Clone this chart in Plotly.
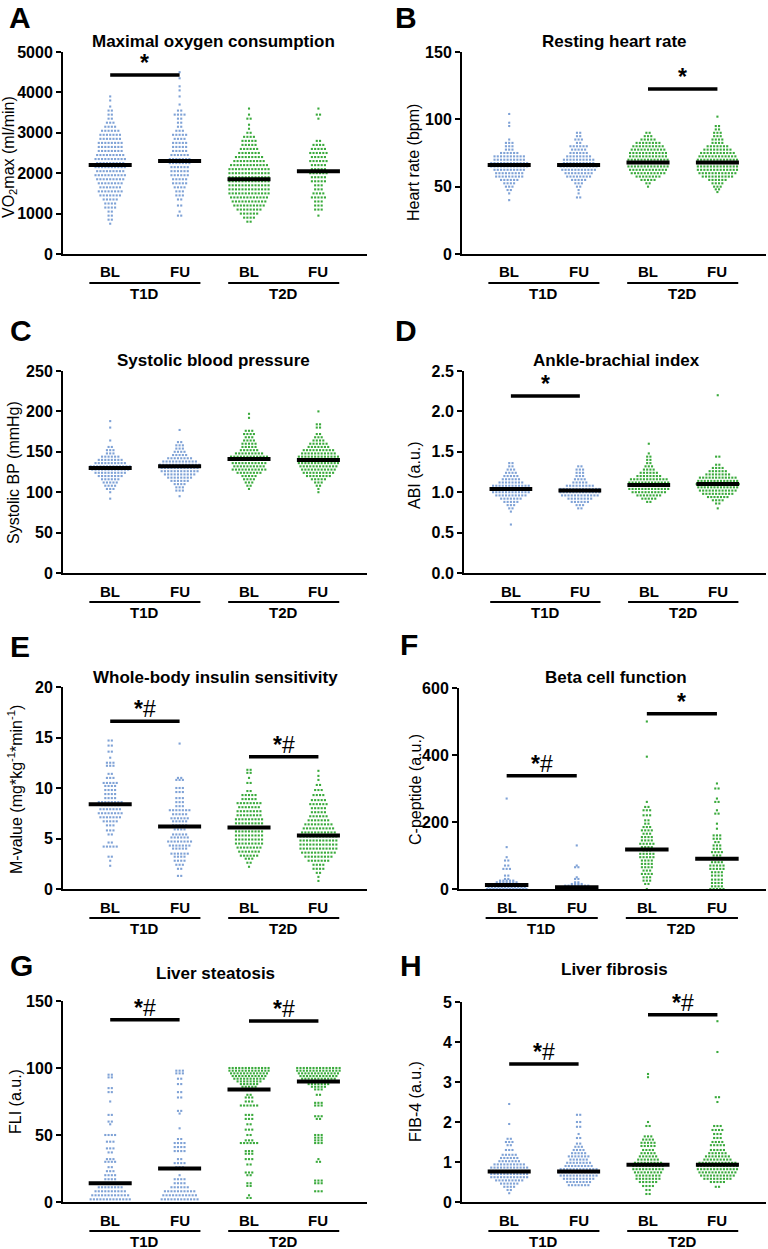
import plotly.graph_objects as go

# rows of the beeswarm: (value, number of dots in that row)
A_T1D_BL = [(750,1),(850,2),(950,2),(1050,2),(1150,4),(1250,4),(1350,5),(1450,7),(1550,8),(1650,7),(1750,8),(1850,9),(1950,10),(2050,9),(2150,10),(2250,9),(2350,10),(2450,9),(2550,8),(2650,8),(2750,8),(2850,7),(2950,7),(3050,6),(3150,4),(3250,3),(3350,2),(3450,2),(3550,2),(3650,1),(3800,1),(3900,1)]
A_T1D_FU = [(950,2),(1050,1),(1200,2),(1350,2),(1450,3),(1550,3),(1650,4),(1750,5),(1850,5),(1950,6),(2050,6),(2150,6),(2250,7),(2350,7),(2450,6),(2550,5),(2650,5),(2750,5),(2850,4),(2950,5),(3050,3),(3150,2),(3250,2),(3350,2),(3450,4),(3550,2),(3700,1),(3900,1),(4050,1),(4150,1),(4350,1),(4500,1)]
A_T2D_BL = [(800,2),(900,4),(1000,6),(1100,8),(1200,10),(1300,11),(1400,12),(1500,13),(1600,13),(1700,13),(1800,13),(1900,13),(2000,13),(2100,13),(2200,12),(2300,10),(2400,9),(2500,7),(2600,6),(2700,5),(2800,5),(2900,4),(3000,2),(3100,1),(3200,1),(3350,2),(3450,1),(3600,1)]
A_T2D_FU = [(950,1),(1100,3),(1200,3),(1300,3),(1400,5),(1500,4),(1600,3),(1700,3),(1800,5),(1900,5),(2000,6),(2100,5),(2200,5),(2300,6),(2400,5),(2500,6),(2600,5),(2700,4),(2800,2),(3350,1),(3450,2),(3600,1)]
A_MED = [2200, 2300, 1850, 2050]

B_T1D_BL = [(40,1),(45,1),(47.5,2),(50,3),(52.5,4),(55,6),(57.5,9),(60,9),(62.5,10),(65,12),(67.5,12),(70,10),(72.5,10),(75,6),(77.5,3),(80,3),(82.5,3),(85,1),(95,1),(97.5,1),(104,1)]
B_T1D_FU = [(42,2),(45,1),(47.5,1),(50,2),(52.5,3),(55,5),(57.5,8),(60,9),(62.5,11),(65,12),(67.5,10),(70,10),(72.5,8),(75,6),(77.5,5),(80,6),(82.5,2),(85,3),(87.5,2),(90,2)]
B_T2D_BL = [(50,1),(52.5,2),(55,5),(57.5,8),(60,11),(62.5,12),(65,13),(67.5,13),(70,13),(72.5,12),(75,12),(77.5,11),(80,10),(82.5,8),(85,5),(87.5,3),(90,2)]
B_T2D_FU = [(46,1),(48,2),(50,3),(52.5,4),(55,6),(57.5,10),(60,12),(62.5,13),(65,13),(67.5,13),(70,13),(72.5,12),(75,11),(77.5,9),(80,7),(82.5,4),(85,4),(87.5,3),(90,3),(92.5,2),(95,2),(102,1)]
B_MED = [66, 66, 68, 68]

C_T1D_BL = [(92,1),(100,1),(104,3),(108,4),(112,5),(116,6),(120,8),(124,10),(128,12),(132,13),(136,10),(140,8),(144,6),(148,3),(152,3),(156,2),(164,1),(180,1),(188,1)]
C_T1D_FU = [(95,1),(102,3),(106,3),(110,4),(114,6),(118,8),(122,10),(126,12),(130,12),(134,13),(138,11),(142,8),(146,5),(150,4),(154,3),(158,3),(162,2),(177,1)]
C_T2D_BL = [(104,1),(108,2),(112,3),(116,4),(120,5),(124,8),(128,11),(132,10),(136,11),(140,12),(144,12),(148,9),(152,6),(156,5),(160,5),(164,4),(168,3),(172,4),(176,3),(192,1),(197,1)]
C_T2D_FU = [(100,1),(104,1),(108,2),(112,3),(116,5),(120,8),(124,10),(128,11),(132,12),(136,13),(140,13),(144,13),(148,11),(152,10),(156,7),(160,6),(164,4),(168,3),(172,2),(180,2),(184,2),(200,1)]
C_MED = [130, 132, 141, 140]

D_T1D_BL = [(0.6,1),(0.76,1),(0.8,2),(0.84,3),(0.88,5),(0.92,7),(0.96,10),(1.0,12),(1.04,13),(1.08,12),(1.12,8),(1.16,6),(1.2,5),(1.24,4),(1.28,3),(1.32,2),(1.36,2)]
D_T1D_FU = [(0.8,2),(0.84,3),(0.88,6),(0.92,8),(0.96,12),(1.0,13),(1.04,13),(1.08,9),(1.12,5),(1.16,4),(1.2,3),(1.24,3),(1.28,3),(1.32,2)]
D_T2D_BL = [(0.88,2),(0.92,5),(0.96,8),(1.0,11),(1.04,13),(1.08,13),(1.12,13),(1.16,12),(1.2,8),(1.24,6),(1.28,4),(1.32,3),(1.36,2),(1.4,2),(1.44,2),(1.48,1),(1.6,1)]
D_T2D_FU = [(0.8,1),(0.86,2),(0.9,4),(0.94,7),(0.98,10),(1.02,12),(1.06,13),(1.1,14),(1.14,13),(1.18,12),(1.22,8),(1.26,6),(1.3,4),(1.34,2),(1.44,2),(2.2,1)]
D_MED = [1.04, 1.02, 1.09, 1.10]

E_T1D_BL = [(2.3,1),(2.8,1),(3.2,2),(4.2,5),(4.6,2),(5.4,2),(5.8,3),(6.3,3),(6.7,5),(7.1,7),(7.5,8),(7.9,7),(8.3,6),(8.6,8),(9.0,4),(9.4,4),(9.8,4),(10.2,4),(10.5,5),(11.0,3),(11.4,2),(12.2,3),(12.5,3),(13.0,1),(13.6,2),(14.2,2),(14.7,2)]
E_T1D_FU = [(1.3,2),(2.0,2),(2.4,3),(2.8,4),(3.2,4),(3.5,6),(4.0,5),(4.3,7),(4.7,8),(5.1,6),(5.4,5),(5.9,4),(6.3,5),(6.7,5),(7.0,6),(7.4,5),(7.8,7),(8.2,3),(8.6,3),(9.0,3),(9.6,3),(10.0,3),(10.8,3),(11.0,2),(14.4,1)]
E_T2D_BL = [(2.2,1),(2.6,2),(3.0,3),(3.3,6),(3.7,7),(4.1,8),(4.5,9),(4.9,9),(5.3,9),(5.7,9),(6.1,9),(6.5,9),(6.9,9),(7.3,8),(7.7,8),(8.1,7),(8.5,8),(8.9,5),(9.3,5),(9.7,2),(10.5,2),(11.0,1),(11.5,2),(11.8,2)]
E_T2D_FU = [(0.8,1),(1.2,1),(1.6,2),(2.0,4),(2.4,4),(2.8,7),(3.2,9),(3.6,11),(4.0,12),(4.4,12),(4.8,12),(5.2,12),(5.6,11),(6.0,10),(6.4,9),(6.8,7),(7.2,6),(7.6,5),(8.0,5),(8.4,6),(8.8,5),(9.3,4),(9.8,3),(10.3,2),(10.8,1),(11.2,1),(11.7,1)]
E_MED = [8.4, 6.2, 6.1, 5.3]

F_T1D_BL = [(0,13),(5,12),(10,10),(15,8),(20,7),(25,5),(30,2),(40,2),(60,3),(70,2),(85,2),(95,1),(125,1),(270,1)]
F_T1D_FU = [(0,13),(5,12),(10,8),(15,4),(20,2),(30,2),(35,1),(65,2),(70,1),(130,1)]
F_T2D_BL = [(0,1),(15,2),(25,3),(35,3),(45,4),(55,3),(65,4),(75,4),(85,4),(95,5),(105,5),(115,3),(125,4),(135,5),(145,4),(155,4),(165,3),(175,4),(185,3),(195,2),(205,2),(220,3),(235,3),(245,2),(260,1),(395,1),(500,1)]
F_T2D_FU = [(0,5),(8,4),(18,4),(28,4),(40,4),(50,4),(60,5),(70,5),(80,4),(90,4),(100,3),(110,4),(120,3),(130,3),(140,2),(150,3),(160,3),(180,1),(195,1),(225,2),(235,1),(260,2),(270,1),(300,2),(315,1)]
F_MED = [12, 5, 118, 90]

G_T1D_BL = [(2,13),(5,12),(8,10),(11,8),(14,6),(17,4),(20,4),(23,3),(26,2),(30,4),(32,3),(37,2),(40,3),(45,3),(50,4),(58,1),(60,2),(65,2),(75,1),(82,2),(85,2),(93,2),(95,2)]
G_T1D_FU = [(2,12),(5,11),(8,10),(11,6),(14,4),(17,4),(20,1),(26,3),(29,4),(32,2),(38,4),(41,4),(44,4),(47,2),(55,1),(66,1),(68,2),(78,2),(82,2),(88,2),(92,2),(96,3),(98,3)]
G_T2D_BL = [(3,2),(5,1),(12,2),(14,2),(20,2),(22,3),(28,2),(32,3),(36,3),(38,3),(44,6),(46,3),(50,2),(54,3),(58,2),(62,3),(65,3),(72,6),(75,3),(78,3),(80,2),(84,3),(86,5),(88,6),(90,8),(92,10),(94,11),(96,12),(98,13),(100,13)]
G_T2D_FU = [(8,3),(14,3),(16,3),(30,2),(32,1),(44,3),(46,3),(48,3),(50,3),(62,2),(64,3),(72,3),(74,3),(80,2),(84,3),(86,5),(88,7),(90,9),(92,11),(94,12),(96,13),(98,14),(100,14)]
G_MED = [14, 25, 84, 90]

H_T1D_BL = [(0.22,1),(0.3,2),(0.38,4),(0.46,6),(0.54,9),(0.62,12),(0.7,12),(0.78,13),(0.86,12),(0.94,10),(1.02,7),(1.1,6),(1.18,5),(1.3,3),(1.42,2),(1.5,3),(1.58,2),(1.95,1),(2.45,1)]
H_T1D_FU = [(0.42,7),(0.5,8),(0.58,10),(0.66,12),(0.74,13),(0.82,12),(0.9,9),(0.98,8),(1.06,6),(1.14,7),(1.22,5),(1.3,4),(1.38,3),(1.46,2),(1.6,2),(1.7,1),(1.88,2),(2.0,2),(2.18,2)]
H_T2D_BL = [(0.2,2),(0.3,2),(0.4,4),(0.5,6),(0.58,8),(0.66,8),(0.74,9),(0.82,10),(0.9,10),(0.98,9),(1.06,7),(1.14,6),(1.22,5),(1.3,4),(1.4,5),(1.48,5),(1.56,4),(1.64,3),(1.9,2),(2.0,1),(3.12,1),(3.2,1)]
H_T2D_FU = [(0.38,2),(0.5,5),(0.58,9),(0.66,11),(0.74,12),(0.82,13),(0.9,13),(0.98,12),(1.06,9),(1.14,8),(1.22,6),(1.3,5),(1.42,5),(1.5,4),(1.6,3),(1.7,3),(1.8,4),(1.9,3),(2.5,1),(2.62,2),(3.75,1),(4.52,1)]
H_MED = [0.76, 0.76, 0.93, 0.93]

GROUPS = ["BL", "FU", "BL", "FU"]
COHORTS = ["T1D", "T2D"]

# significance bars: (from group, to group, y value, label)
A_SIG = [(0, 1, 4430, "*")]
B_SIG = [(2, 3, 122.5, "*")]
D_SIG = [(0, 1, 2.19, "*")]
E_SIG = [(0, 1, 16.6, "*#"), (2, 3, 13.1, "*#")]
F_SIG = [(0, 1, 338, "*#"), (2, 3, 523, "*")]
G_SIG = [(0, 1, 136, "*#"), (2, 3, 135, "*#")]
H_SIG = [(0, 1, 3.45, "*#"), (2, 3, 4.68, "*#")]

BLUE = "#7fa2d6"
GREEN = "#3aaa3c"
FONT = "Liberation Sans, Arial, sans-serif"
W, H = 768, 1249
DX = 0.047

panels = [
    dict(letter="A", title="Maximal oxygen consumption", ytitle="VO<sub>2</sub>max (ml/min)",
         data=[A_T1D_BL, A_T1D_FU, A_T2D_BL, A_T2D_FU], med=A_MED, sig=A_SIG, ymax=5000, dtick=1000, fmt="d",
         box=(63, 367, 52, 254), lpos=(20, 17), tpos=(213, 42), ypos=(9, 157)),
    dict(letter="B", title="Resting heart rate", ytitle="Heart rate (bpm)",
         data=[B_T1D_BL, B_T1D_FU, B_T2D_BL, B_T2D_FU], med=B_MED, sig=B_SIG, ymax=150, dtick=50, fmt="d",
         box=(462, 766, 52, 254), lpos=(406, 17), tpos=(614, 42), ypos=(414, 163)),
    dict(letter="C", title="Systolic blood pressure", ytitle="Systolic BP (mmHg)",
         data=[C_T1D_BL, C_T1D_FU, C_T2D_BL, C_T2D_FU], med=C_MED, sig=[], ymax=250, dtick=50, fmt="d",
         box=(63, 367, 371, 573), lpos=(21, 330), tpos=(213, 360), ypos=(14, 473)),
    dict(letter="D", title="Ankle-brachial index", ytitle="ABI (a.u.)",
         data=[D_T1D_BL, D_T1D_FU, D_T2D_BL, D_T2D_FU], med=D_MED, sig=D_SIG, ymax=2.5, dtick=0.5, fmt=".1f",
         box=(464, 766, 371, 573), lpos=(406, 330), tpos=(616, 360), ypos=(415, 475)),
    dict(letter="E", title="Whole-body insulin sensitivity", ytitle="M-value (mg*kg<sup>-1</sup>*min<sup>-1</sup>)",
         data=[E_T1D_BL, E_T1D_FU, E_T2D_BL, E_T2D_FU], med=E_MED, sig=E_SIG, ymax=20, dtick=5, fmt="d",
         box=(63, 367, 687, 889), lpos=(20, 646), tpos=(215, 677), ypos=(15, 790)),
    dict(letter="F", title="Beta cell function", ytitle="C-peptide (a.u.)",
         data=[F_T1D_BL, F_T1D_FU, F_T2D_BL, F_T2D_FU], med=F_MED, sig=F_SIG, ymax=600, dtick=200, fmt="d",
         box=(459, 766, 688, 889), lpos=(409, 644), tpos=(616, 677), ypos=(415, 790)),
    dict(letter="G", title="Liver steatosis", ytitle="FLI (a.u.)",
         data=[G_T1D_BL, G_T1D_FU, G_T2D_BL, G_T2D_FU], med=G_MED, sig=G_SIG, ymax=150, dtick=50, fmt="d",
         box=(63, 367, 1001, 1202), lpos=(21, 965), tpos=(215, 973), ypos=(15, 1102)),
    dict(letter="H", title="Liver fibrosis", ytitle="FIB-4 (a.u.)",
         data=[H_T1D_BL, H_T1D_FU, H_T2D_BL, H_T2D_FU], med=H_MED, sig=H_SIG, ymax=5, dtick=1, fmt="d",
         box=(462, 766, 1002, 1202), lpos=(411, 965), tpos=(614, 970), ypos=(415, 1102)),
]


def px(x):
    return x / W


def py(y):
    return 1 - y / H


def swarm(rows, pos):
    xs, ys = [], []
    for v, n in rows:
        for k in range(n):
            xs.append(pos + (k - (n - 1) / 2) * DX)
            ys.append(v)
    return xs, ys


def label(text, x, y, size, xref="paper", yref="paper", **kw):
    return dict(text=text, xref=xref, yref=yref, x=x, y=y, xanchor="center", yanchor="middle",
                showarrow=False, font=dict(size=size, color="black", family=FONT), **kw)


fig = go.Figure()
annots = []
shapes = []

for i, p in enumerate(panels):
    n = "" if i == 0 else str(i + 1)
    xa, ya = "x" + n, "y" + n
    x0, x1, y0, y1 = p["box"]

    for g, rows in enumerate(p["data"]):
        xs, ys = swarm(rows, g)
        fig.add_trace(go.Scatter(
            x=xs, y=ys, mode="markers", xaxis=xa, yaxis=ya, cliponaxis=False, showlegend=False,
            marker=dict(size=2.1, color=BLUE if g < 2 else GREEN, symbol="square", line=dict(width=0)),
        ))
        # median line
        shapes.append(dict(type="line", xref=xa, yref=ya, x0=g - 0.31, x1=g + 0.31,
                           y0=p["med"][g], y1=p["med"][g], line=dict(color="black", width=4)))

    for a, b, yv, lab in p["sig"]:
        shapes.append(dict(type="line", xref=xa, yref=ya, x0=a, x1=b, y0=yv, y1=yv,
                           line=dict(color="black", width=3.5)))
        txt = "<b>*</b>" if lab == "*" else "<b>*</b>#"
        a_ = label(txt, (a + b) / 2, yv, 23, xref=xa, yref=ya, yshift=-3)
        a_["yanchor"] = "bottom"
        annots.append(a_)

    fig.layout[("xaxis" + n)] = dict(
        domain=[px(x0), px(x1)], range=[-0.68, 3.70], anchor=ya, showgrid=False, zeroline=False,
        showline=True, linecolor="black", linewidth=2, ticks="", showticklabels=False, fixedrange=True,
    )
    fig.layout[("yaxis" + n)] = dict(
        domain=[py(y1), py(y0)], range=[0, p["ymax"]], anchor=xa, showgrid=False, zeroline=False,
        showline=True, linecolor="black", linewidth=2, ticks="outside", ticklen=5, tickwidth=2,
        tickcolor="black", dtick=p["dtick"], tick0=0, tickformat=p["fmt"], automargin=False,
        tickfont=dict(size=16, color="black", family=FONT, weight="bold"),
    )

    # category labels under the axis
    for g, lab in enumerate(GROUPS):
        annots.append(label("<b>%s</b>" % lab, g, py(y1 + 18), 15, xref=xa))
    for c, lab in enumerate(COHORTS):
        mid = 2 * c + 0.5
        shapes.append(dict(type="line", xref=xa, yref="paper", x0=mid - 0.8, x1=mid + 0.8,
                           y0=py(y1 + 29), y1=py(y1 + 29), line=dict(color="black", width=2)))
        annots.append(label("<b>%s</b>" % lab, mid, py(y1 + 39), 15, xref=xa))

    annots.append(label("<b>%s</b>" % p["letter"], px(p["lpos"][0]), py(p["lpos"][1]), 30))
    annots.append(label("<b>%s</b>" % p["title"], px(p["tpos"][0]), py(p["tpos"][1]), 17))
    annots.append(label(p["ytitle"], px(p["ypos"][0]), py(p["ypos"][1]), 16, textangle=-90))

fig.update_layout(
    width=W, height=H, margin=dict(l=0, r=0, t=0, b=0),
    paper_bgcolor="white", plot_bgcolor="white",
    font=dict(family=FONT, color="black"),
    annotations=annots, shapes=shapes,
)

# the page's default body margin would shift the 768x1249 figure
fig.write_html("out.html", config={"displayModeBar": False},
               post_script="document.body.style.margin='0px';")
